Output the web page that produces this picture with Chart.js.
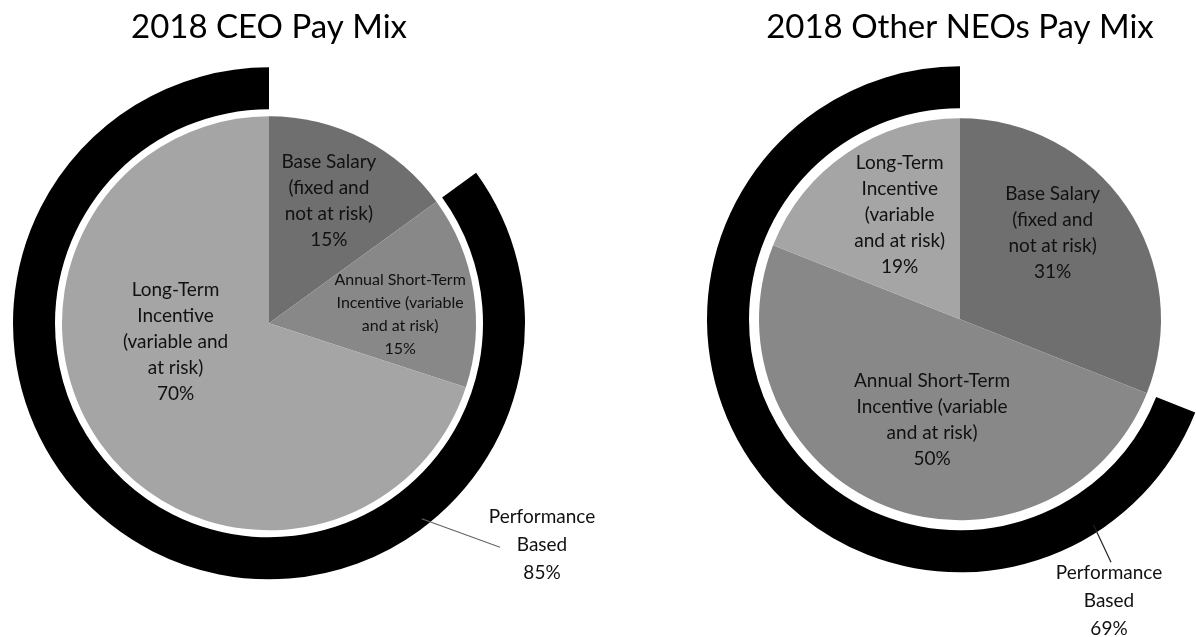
<!DOCTYPE html>
<html>
<head>
<meta charset="utf-8">
<script src="https://cdn.jsdelivr.net/npm/chart.js@4.4.1/dist/chart.umd.min.js"></script>
<style>
html, body { margin: 0; padding: 0; background: #fff; overflow: hidden; }
#wrap { position: relative; width: 1196px; height: 637px; }
.box { position: absolute; top: 0; width: 598px; height: 637px; }
</style>
</head>
<body>
<div id="wrap">
  <div class="box" style="left:0"><canvas id="ceoChart"></canvas></div>
  <div class="box" style="left:598px"><canvas id="neoChart"></canvas></div>
</div>
<script>
// Data
const payCategories = ['Base Salary', 'Annual Short-Term Incentive', 'Long-Term Incentive'];
const ceoValues = [15, 15, 70];
const neoValues = [31, 50, 19];
// ring: [fixed part (not drawn), performance based]
const ceoRing = [15, 85];
const neoRing = [31, 69];
const chartTitles = ['2018 CEO Pay Mix', '2018 Other NEOs Pay Mix'];
const ringLabel = ['Performance', 'Based'];

const ceoSliceText = [
    ['Base Salary', '(fixed and', 'not at risk)'],
    ['Annual Short-Term', 'Incentive (variable', 'and at risk)'],
    ['Long-Term', 'Incentive', '(variable and', 'at risk)']
];
const neoSliceText = [
    ['Base Salary', '(fixed and', 'not at risk)'],
    ['Annual Short-Term', 'Incentive (variable', 'and at risk)'],
    ['Long-Term', 'Incentive', '(variable', 'and at risk)']
];

const sliceColors = ['#6f6f6f', '#888888', '#a5a5a5'];
const FONT = 'Lato, "Open Sans", sans-serif';

// draws the text inside slices and the "Performance Based" callout
const pieLabels = {
    id: 'pieLabels',
    afterDatasetsDraw(chart, args, opts) {
        const ctx = chart.ctx;
        const pieMeta = chart.getDatasetMeta(2);
        const values = chart.data.datasets[2].data;

        ctx.save();
        ctx.fillStyle = '#111';
        ctx.textAlign = 'center';
        ctx.textBaseline = 'middle';

        pieMeta.data.forEach((arc, i) => {
            const spot = opts.spots[i];
            const a = spot.angle * Math.PI / 180;
            const d = spot.dist * arc.outerRadius;
            const cx = arc.x + Math.sin(a) * d;
            const cy = arc.y - Math.cos(a) * d;
            const lines = opts.text[i].concat(values[i] + '%');
            ctx.font = spot.size + 'px ' + FONT;
            lines.forEach((t, k) => {
                ctx.fillText(t, cx, cy + (k - (lines.length - 1) / 2) * spot.lineHeight);
            });
        });

        // callout for the black ring
        const ring = chart.getDatasetMeta(0).data[1];
        const perf = chart.data.datasets[0].data[1];
        const c = opts.callout;
        const a = c.angle * Math.PI / 180;
        const r0 = ring.outerRadius - 8;
        ctx.strokeStyle = c.lineColor;
        ctx.lineWidth = 1.2;
        ctx.beginPath();
        ctx.moveTo(ring.x + Math.sin(a) * r0, ring.y - Math.cos(a) * r0);
        ctx.lineTo(ring.x + c.lineEnd[0], ring.y + c.lineEnd[1]);
        ctx.stroke();

        ctx.font = c.size + 'px ' + FONT;
        const lines = ringLabel.concat(perf + '%');
        lines.forEach((t, k) => {
            ctx.fillText(t, ring.x + c.dx, ring.y + c.dy + (k - 1) * c.lineHeight);
        });
        ctx.restore();
    }
};

function drawPayMix(canvasId, title, ring, values, sliceText, setup) {
    const ctx = document.getElementById(canvasId).getContext('2d');
    return new Chart(ctx, {
        type: 'pie',
        data: {
            labels: payCategories,
            datasets: [
                {
                    data: ring,
                    backgroundColor: ['rgba(0,0,0,0)', '#000000'],
                    borderWidth: 0,
                    weight: setup.ringWeight
                },
                {
                    // white gap between ring and pie
                    data: [1],
                    backgroundColor: ['rgba(0,0,0,0)'],
                    borderWidth: 0,
                    weight: setup.gapWeight
                },
                {
                    data: values,
                    backgroundColor: sliceColors,
                    borderWidth: 0,
                    weight: setup.pieWeight
                }
            ]
        },
        options: {
            responsive: true,
            maintainAspectRatio: false,
            animation: false,
            cutout: 0,
            radius: setup.radius,
            clip: false,
            layout: { padding: setup.padding },
            events: [],
            plugins: {
                legend: { display: false },
                tooltip: { enabled: false },
                title: {
                    display: true,
                    text: title,
                    color: '#000',
                    font: { family: FONT, size: setup.titleSize, weight: 'normal' },
                    padding: { top: 8, bottom: 4 }
                },
                pieLabels: {
                    text: sliceText,
                    spots: setup.spots,
                    callout: setup.callout
                }
            }
        },
        plugins: [pieLabels]
    });
}

drawPayMix('ceoChart', chartTitles[0], ceoRing, ceoValues, ceoSliceText, {
    radius: 256,
    ringWeight: 42,
    gapWeight: 7,
    pieWeight: 207,
    titleSize: 33,
    padding: { left: 0, right: 60, top: 0, bottom: 42 },
    spots: [
        { angle: 26, dist: 0.66, size: 19, lineHeight: 26 },
        { angle: 86, dist: 0.635, size: 16, lineHeight: 23 },
        { angle: 259, dist: 0.46, size: 19, lineHeight: 26 }
    ],
    callout: { angle: 142, lineEnd: [231, 224], dx: 273, dy: 222, size: 19, lineHeight: 28, lineColor: '#666' }
});

drawPayMix('neoChart', chartTitles[1], neoRing, neoValues, neoSliceText, {
    radius: 253,
    ringWeight: 42,
    gapWeight: 10,
    pieWeight: 201,
    titleSize: 33,
    padding: { left: 126, right: 0, top: 0, bottom: 50 },
    spots: [
        { angle: 47, dist: 0.63, size: 19, lineHeight: 26 },
        { angle: 195.5, dist: 0.52, size: 19, lineHeight: 26 },
        { angle: 330, dist: 0.60, size: 19, lineHeight: 26 }
    ],
    callout: { angle: 147, lineEnd: [151, 243], dx: 149, dy: 282, size: 19, lineHeight: 28, lineColor: '#222' }
});
</script>
</body>
</html>
